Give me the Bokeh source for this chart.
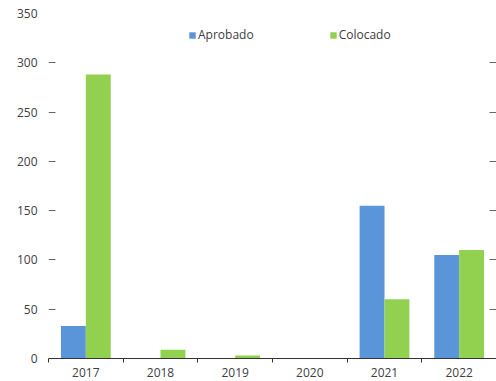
import numpy as np
from bokeh.plotting import figure
from bokeh.models import ColumnDataSource, FixedTicker, Range1d, Legend, LegendItem
from bokeh.transform import dodge
from bokeh.embed import file_html
from bokeh.resources import INLINE

years = ["2017", "2018", "2019", "2020", "2021", "2022"]
aprobado = [33, 0, 0, 0, 155, 105]
colocado = [288, 9, 3, 0, 60, 110]
y_ticks = [0, 50, 100, 150, 200, 250, 300, 350]

BLUE = "#5B95D9"
GREEN = "#92D050"
FONT = "Open Sans"
TXT = "#404040"

idx = np.arange(len(years))
src = ColumnDataSource(dict(x=idx, aprobado=aprobado, colocado=colocado))

p = figure(width=496, height=381, output_backend="svg", toolbar_location=None,
           x_range=Range1d(-0.5, len(years) - 0.5), y_range=Range1d(0, 350),
           min_border_left=48, min_border_right=0, min_border_top=13, min_border_bottom=23)
p.outline_line_color = None
p.background_fill_color = "white"

bw = 1 / 3
r1 = p.vbar(x=dodge("x", -bw / 2, range=p.x_range), top="aprobado", width=bw, source=src,
            fill_color=BLUE, line_color=None)
r2 = p.vbar(x=dodge("x", bw / 2, range=p.x_range), top="colocado", width=bw, source=src,
            fill_color=GREEN, line_color=None)

# y axis
p.yaxis.ticker = FixedTicker(ticks=y_ticks)
p.yaxis.axis_line_color = None
p.yaxis.major_tick_line_color = None
p.yaxis.minor_tick_line_color = None
p.yaxis.major_tick_out = 0
p.yaxis.major_tick_in = 0
p.yaxis.major_label_standoff = 11
p.yaxis.major_label_text_font = FONT
p.yaxis.major_label_text_font_size = "12px"
p.yaxis.major_label_text_color = TXT

p.ygrid.ticker = FixedTicker(ticks=y_ticks)
p.ygrid.grid_line_color = "#666666"
p.ygrid.grid_line_dash = "7 434"
p.xgrid.grid_line_color = None

# x axis
p.xaxis.ticker = FixedTicker(ticks=list(idx), minor_ticks=list(np.arange(len(years) + 1) - 0.5))
p.xaxis.major_label_overrides = {int(i): y for i, y in zip(idx, years)}
p.xaxis.axis_line_color = "#333333"
p.xaxis.major_tick_line_color = None
p.xaxis.major_tick_out = 0
p.xaxis.major_tick_in = 0
p.xaxis.minor_tick_line_color = "#333333"
p.xaxis.minor_tick_out = 4
p.xaxis.minor_tick_in = 0
p.xaxis.major_label_standoff = 5
p.xaxis.major_label_text_font = FONT
p.xaxis.major_label_text_font_size = "12px"
p.xaxis.major_label_text_color = TXT

legend = Legend(items=[LegendItem(label="Aprobado", renderers=[r1]),
                       LegendItem(label="Colocado", renderers=[r2])],
                orientation="horizontal", location=(140, 315),
                glyph_width=8, glyph_height=8, label_standoff=2, spacing=75,
                padding=0, margin=0, border_line_color=None, background_fill_alpha=0,
                label_text_font=FONT, label_text_font_size="12px", label_text_color=TXT)
p.add_layout(legend)

open("out.html", "w").write(file_html(p, INLINE))
